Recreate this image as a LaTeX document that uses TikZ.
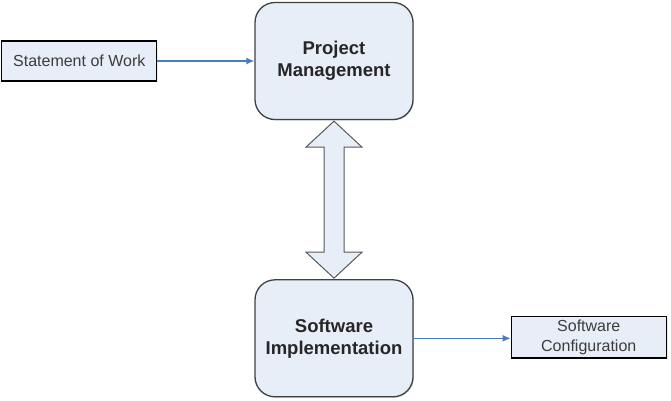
\documentclass[tikz,border=0pt]{standalone}
\usepackage{fontspec}
\setmainfont{Liberation Sans}
\usetikzlibrary{shapes.geometric, arrows, arrows.meta, shadows}
\usetikzlibrary{positioning}
\definecolor{boxfill}{RGB}{232,238,248}
\definecolor{flowblue}{RGB}{74,126,187}
\definecolor{textgray}{RGB}{60,60,60}
\tikzstyle{mainbox} 		= [rectangle, rounded corners=20pt, minimum width=158pt, minimum height=117pt, text centered, align=center, draw=black!75, line width=1.3pt, fill=boxfill, font=\fontsize{18.5}{22}\selectfont\bfseries, text=black!85, drop shadow={shadow xshift=1pt, shadow yshift=-1pt, fill=black!25}]
\tikzstyle{docbox}   		= [rectangle, minimum width=155pt, minimum height=40pt, text centered, align=center, draw=black, line width=1.2pt, fill=boxfill, font=\fontsize{16}{20}\selectfont, text=textgray, drop shadow={shadow xshift=1.5pt, shadow yshift=-1pt, fill=black!15}]
\tikzstyle{flow} = [flowblue, line width=1.3pt, -{Latex[length=8pt,width=7pt]}]
\tikzstyle{exchange} = [draw=black!65, line width=1pt, fill=boxfill, line join=miter]

\begin{document}
\begin{tikzpicture}
				\useasboundingbox (0,0) rectangle (671pt,-400pt);
				\node (pm) [mainbox] at (334pt,-61pt) {Project\\Management};
				\node (sow) [docbox, left=97pt of pm] {Statement of Work};
				\node (si) [mainbox, below=159pt of pm] {Software\\Implementation};
				\node (sc) [docbox, right=97pt of si, yshift=1pt] {Software\\Configuration};
				
				\draw [flow] (sow) -- (pm);
				\draw [flow] (si) -- (sc.west |- si.east);
				% two-way arrow between management and implementation
				\draw [exchange] ([yshift=-1pt]pm.south) -- ++(28pt,-26pt) -- ++(-18pt,0) -- ++(0,-105pt) -- ++(18pt,0)
					-- ([yshift=1pt]si.north) -- ++(-28pt,26pt) -- ++(18pt,0) -- ++(0,105pt) -- ++(-18pt,0) -- cycle;
\end{tikzpicture}
\end{document}
